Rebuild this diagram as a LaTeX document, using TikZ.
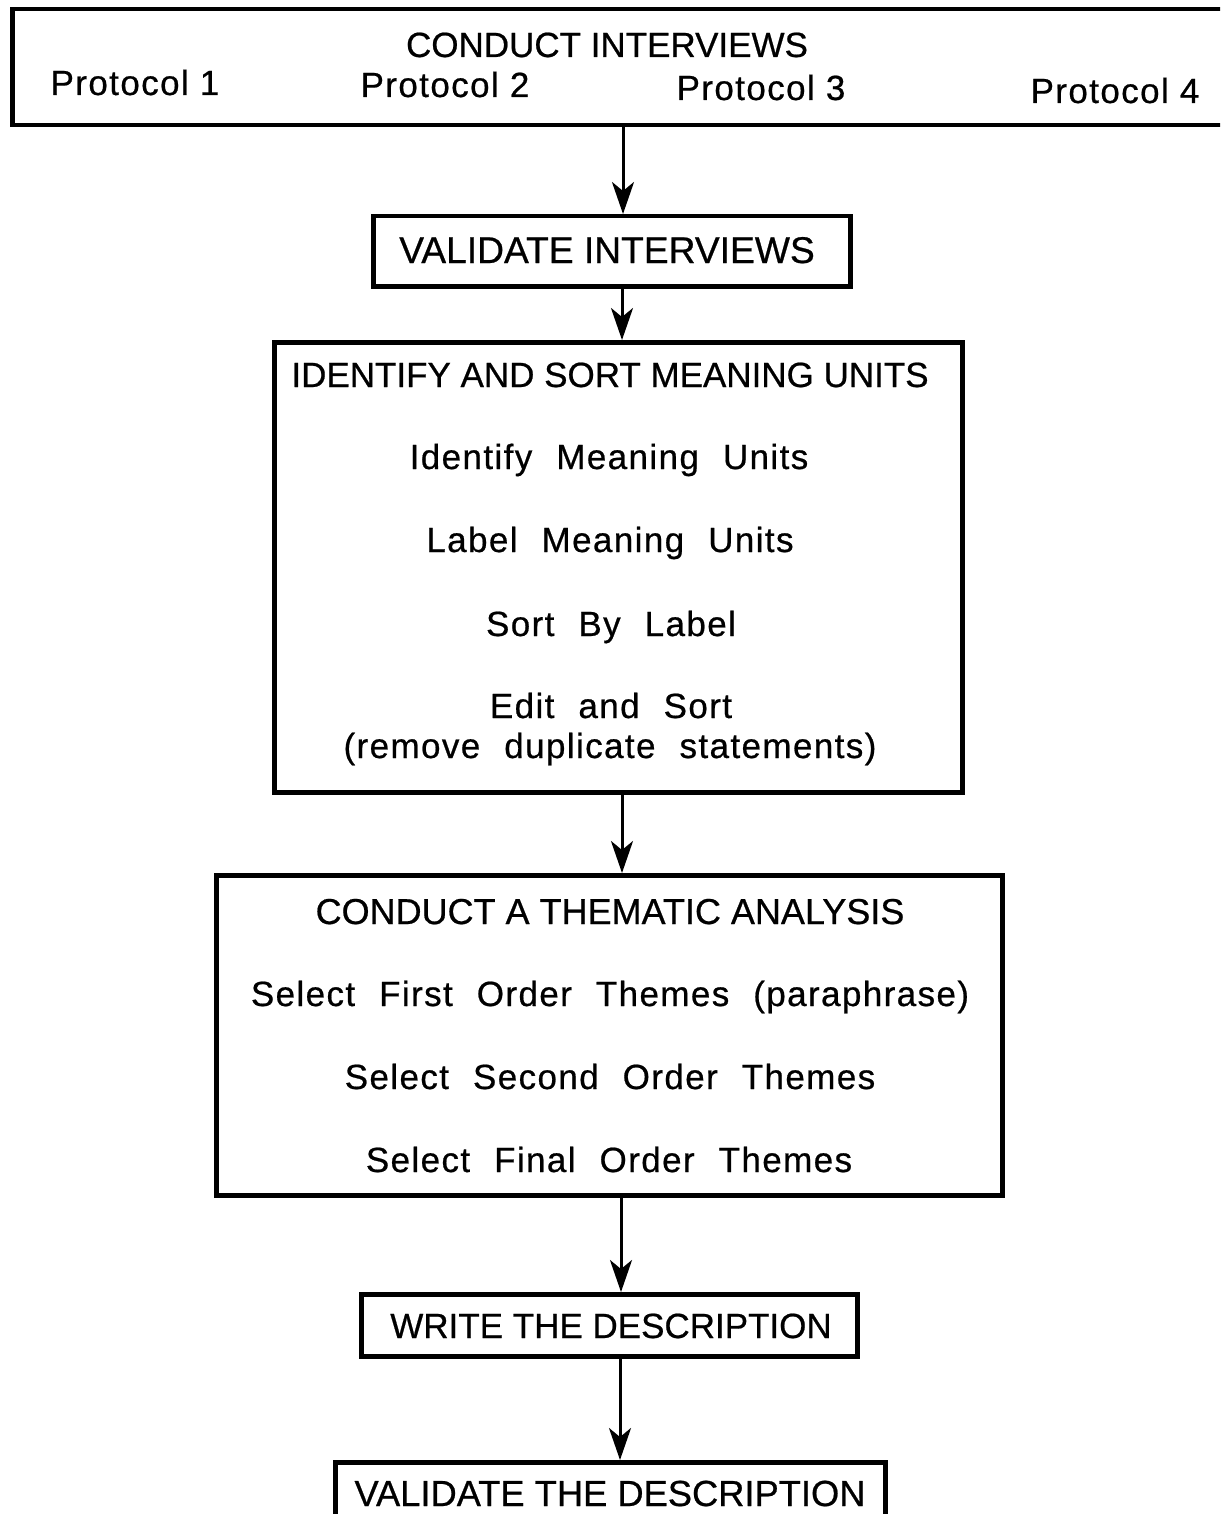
\documentclass[tikz,border=0pt]{standalone}
\usepackage{fontspec}
\setmainfont[FakeBold=0.6]{Liberation Sans}
\newfontfamily\bodyfont[LetterSpace=4,FakeBold=0.6]{Liberation Sans}
\newcommand\mybodyset{\bodyfont\fontsize{35}{42}\selectfont\spaceskip=24pt plus 2pt\relax}
\newcommand\myprotset{\bodyfont\fontsize{35}{42}\selectfont}
\newcommand\mytitleset{\fontsize{35}{42}\selectfont}
\usetikzlibrary{arrows.meta}
\begin{document}
\begin{tikzpicture}[x=1pt,y=-1pt,
  box/.style={draw,line width=4.5pt,inner sep=0pt,anchor=north west},
  ttl/.style={font=\mytitleset,inner sep=0pt,anchor=base},
  body/.style={font=\mybodyset,inner sep=0pt,anchor=base},
  prot/.style={font=\myprotset,inner sep=0pt,anchor=base},
  conn/.style={line width=3pt,-{Stealth[length=32pt,width=22pt,inset=9pt]}}]
\useasboundingbox (0,0) rectangle (1220,1514);
\clip (0,0) rectangle (1220,1514);
% boxes
\node[box,minimum width=1250pt,minimum height=116pt] (b1) at (10,7) {};
\node[box,minimum width=477pt,minimum height=70pt] (b2) at (371,214) {};
\node[box,minimum width=688pt,minimum height=450pt] (b3) at (272,340) {};
\node[box,minimum width=786pt,minimum height=320pt] (b4) at (214,873) {};
\node[box,minimum width=496pt,minimum height=62pt] (b5) at (359,1292) {};
\node[box,minimum width=550pt,minimum height=100pt] (b6) at (333,1460) {};
% texts
\node[ttl] (t1) at (607,57) {CONDUCT INTERVIEWS};
\node[prot] (p1) at (135,95) {Protocol 1};
\node[prot] (p2) at (445,97) {Protocol 2};
\node[prot] (p3) at (761,100) {Protocol 3};
\node[prot] (p4) at (1115,103) {Protocol 4};
\node[ttl,font=\fontsize{37.2}{42}\selectfont] (t2) at (607,263) {VALIDATE INTERVIEWS};
\node[ttl] (t3) at (610,387) {IDENTIFY AND SORT MEANING UNITS};
\node[body] (s31) at (609,469) {Identify Meaning Units};
\node[body] (s32) at (610,552) {Label Meaning Units};
\node[body] (s33) at (611,636) {Sort By Label};
\node[body] (s34) at (611,718) {Edit and Sort};
\node[body] (s35) at (610,758) {(remove duplicate statements)};
\node[ttl,font=\fontsize{36}{42}\selectfont] (t4) at (610,924) {CONDUCT A THEMATIC ANALYSIS};
\node[body] (s41) at (610,1006) {Select First Order Themes (paraphrase)};
\node[body] (s42) at (610,1089) {Select Second Order Themes};
\node[body] (s43) at (609,1172) {Select Final Order Themes};
\node[ttl] (t5) at (611,1338) {WRITE THE DESCRIPTION};
\node[ttl,font=\fontsize{36.3}{42}\selectfont] (t6) at (610,1506) {VALIDATE THE DESCRIPTION};
% connectors
\coordinate (x1) at (623,0);
\coordinate (x2) at (622,0);
\coordinate (x3) at (622,0);
\coordinate (x4) at (621,0);
\coordinate (x5) at (620,0);
\draw[conn] (b1.south -| x1) -- (b2.north -| x1);
\draw[conn] (b2.south -| x2) -- (b3.north -| x2);
\draw[conn] (b3.south -| x3) -- (b4.north -| x3);
\draw[conn] (b4.south -| x4) -- (b5.north -| x4);
\draw[conn] (b5.south -| x5) -- (b6.north -| x5);
\end{tikzpicture}
\end{document}
